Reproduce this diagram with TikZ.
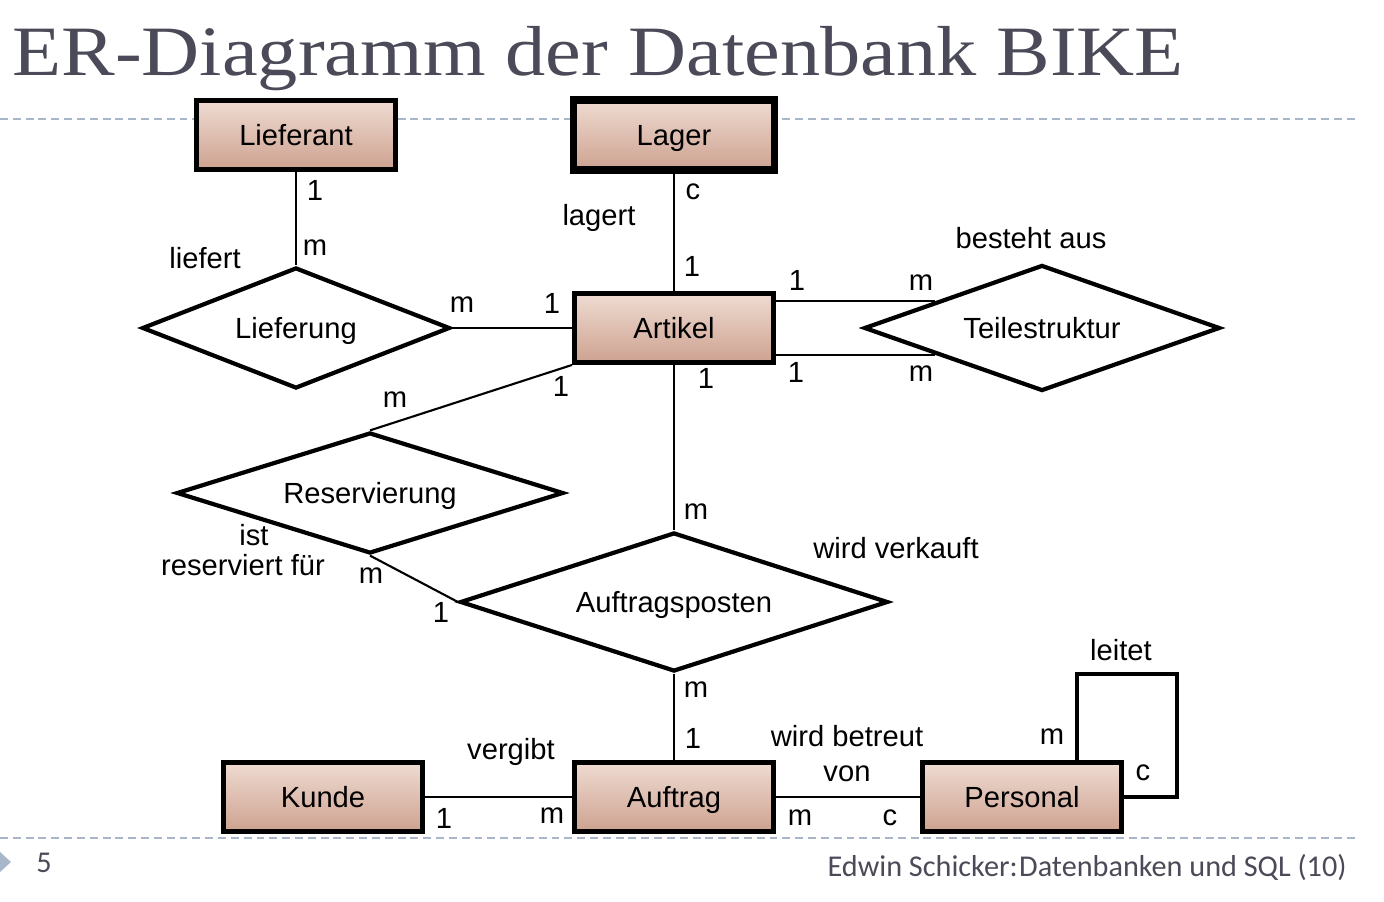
\documentclass[tikz,border=0pt]{standalone}
\usepackage{fontspec}
\setmainfont{Liberation Sans}
\newfontfamily\titlefont[FakeStretch=1.135]{Liberation Serif}
\newfontfamily\footfont{Carlito}
\usetikzlibrary{shapes.geometric,shadows}

\definecolor{titlegray}{HTML}{4A4A58}
\definecolor{dashblue}{HTML}{A7B7C9}
\definecolor{boxtop}{HTML}{EFDBD2}
\definecolor{boxbottom}{HTML}{CDA290}

\tikzset{
  entity/.style={draw, line width=2.8pt, top color=boxtop, bottom color=boxbottom,
    minimum width=3.98cm, minimum height=1.38cm, inner sep=0pt,
    text height=11.9pt, text depth=0pt,
    drop shadow={shadow xshift=1.5pt, shadow yshift=-1.5pt, opacity=0.25},
    font=\fontsize{16.6}{20}\selectfont},
  relation/.style={draw, diamond, aspect=3, line width=2.4pt, fill=white, inner sep=0pt,
    text height=11.9pt, text depth=0pt,
    font=\fontsize{16.6}{20}\selectfont},
  card/.style={inner sep=0pt, font=\fontsize{16.6}{20}\selectfont},
  footer/.style={inner sep=0pt, text=titlegray, font=\footfont\fontsize{17.2}{20}\selectfont},
  conn/.style={line width=1.2pt},
  sepline/.style={dashblue, line width=1.1pt, dash pattern=on 4.5pt off 2.8pt}
}

\begin{document}
\begin{tikzpicture}[x=0.02cm, y=-0.02cm]
  \useasboundingbox (0,0) rectangle (1384,902);

  % Title and slide frame
  \node[anchor=base west, inner sep=0pt, text=titlegray, font=\titlefont\fontsize{40.3}{48}\selectfont] (title) at (12,76) {ER-Diagramm der Datenbank BIKE};
  \draw[sepline] (0,119) -- (1358,119);
  \draw[sepline] (0,838) -- (1358,838);
  \fill[dashblue] (0,852) -- (11,862) -- (0,872) -- cycle;
  \node[footer] (page) at (44,863) {5};
  \node[footer, anchor=base east] (source) at (1347,876) {Edwin Schicker:\hspace{0.05em}Datenbanken und SQL (10)};

  % Entities
  \node[entity] (Lieferant) at (296,135) {Lieferant};
  \node[entity, line width=4pt, minimum width=4.02cm, minimum height=1.4cm] (Lager) at (674,135) {Lager};
  \node[entity] (Artikel) at (674,328) {Artikel};
  \node[entity] (Kunde) at (323,797) {Kunde};
  \node[entity] (Auftrag) at (674,797) {Auftrag};
  \node[entity] (Personal) at (1022,797) {Personal};

  % Relationships
  \node[relation, minimum width=6.16cm, minimum height=2.42cm] (Lieferung) at (296,328) {Lieferung};
  \node[relation, minimum width=7.12cm, minimum height=2.52cm] (Teile) at (1042,328) {Teilestruktur};
  \node[relation, minimum width=7.74cm, minimum height=2.42cm] (Reservierung) at (370,493) {Reservierung};
  \node[relation, minimum width=8.56cm, minimum height=2.78cm] (Posten) at (674,602) {Auftragsposten};

  % Connectors
  \draw[conn] (Lieferant) -- (Lieferung);
  \draw[conn] (Lager) -- (Artikel);
  \draw[conn] (Lieferung.east) -- (Artikel.west);
  \draw[conn] (Teile.166) -- (Teile.166 -| Artikel.east);
  \draw[conn] (Teile.194) -- (Teile.194 -| Artikel.east);
  \draw[conn] (Artikel.south west) -- (Reservierung.north);
  \draw[conn] (Artikel) -- (Posten);
  \draw[conn] (Reservierung.south) -- (Posten.west);
  \draw[conn] (Posten) -- (Auftrag);
  \draw[conn] (Kunde) -- (Auftrag);
  \draw[conn] (Auftrag) -- (Personal);
  \coordinate (loop) at (1177,674);
  \draw[line width=2.3pt] ([xshift=1.1cm]Personal.north) |- (loop) |- (Personal.east);

  % Role names
  \node[card] (liefert) at (205,258) {liefert};
  \node[card] (lagert) at (599,218) {lagert};
  \node[card] (besteht) at (1031,238) {besteht aus};
  \node[card] (verkauft) at (896,548) {wird verkauft};
  \node[card, align=center, font=\fontsize{16.6}{17}\selectfont] (reserviert) at (243,550) {\hspace*{0.44cm}ist\\reserviert für};
  \node[card] (vergibt) at (511,752) {vergibt};
  \node[card, align=center, font=\fontsize{16.6}{20}\selectfont] (betreut) at (847,754) {wird betreut\\von};
  \node[card] (leitet) at (1121,650) {leitet};

  % Cardinalities
  \node[card] (c1) at (315,190) {1};
  \node[card] (c2) at (315,248) {m};
  \node[card] (c3) at (693,192) {c};
  \node[card] (c4) at (692,266) {1};
  \node[card] (c5) at (462,305) {m};
  \node[card] (c6) at (552,303) {1};
  \node[card] (c7) at (797,280) {1};
  \node[card] (c8) at (921,283) {m};
  \node[card] (c9) at (796,372) {1};
  \node[card] (c10) at (921,374) {m};
  \node[card] (c11) at (395,400) {m};
  \node[card] (c12) at (561,386) {1};
  \node[card] (c13) at (706,378) {1};
  \node[card] (c14) at (696,512) {m};
  \node[card] (c15) at (371,576) {m};
  \node[card] (c16) at (441,612) {1};
  \node[card] (c17) at (696,690) {m};
  \node[card] (c18) at (693,738) {1};
  \node[card] (c19) at (444,818) {1};
  \node[card] (c20) at (552,816) {m};
  \node[card] (c21) at (800,818) {m};
  \node[card] (c22) at (890,818) {c};
  \node[card] (c23) at (1052,737) {m};
  \node[card] (c24) at (1143,773) {c};
\end{tikzpicture}
\end{document}
